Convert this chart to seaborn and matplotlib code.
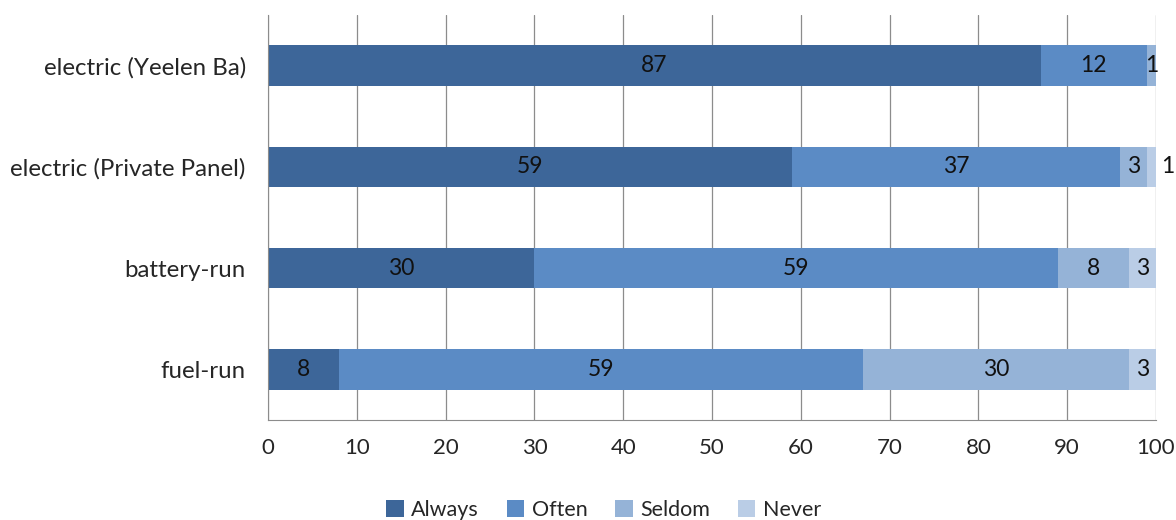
import numpy as np
import pandas as pd
import seaborn as sns
import matplotlib.pyplot as plt
from matplotlib.ticker import FixedLocator

# data
sources = ['electric (Yeelen Ba)', 'electric (Private Panel)', 'battery-run', 'fuel-run']
always = [87, 59, 30, 8]
often = [12, 37, 59, 59]
seldom = [1, 3, 8, 30]
never = [0, 1, 3, 3]

levels = ['Always', 'Often', 'Seldom', 'Never']
colors = ['#3d6699', '#5b8bc5', '#95b3d7', '#bacde6']

sns.set_style('white')
plt.rcParams['font.family'] = ['Lato', 'DejaVu Sans']

df = pd.DataFrame({'source': sources, 'Always': always, 'Often': often,
                   'Seldom': seldom, 'Never': never})
cum = df[levels].cumsum(axis=1)

fig = plt.figure(figsize=(11.76, 5.2), dpi=100)
ax = fig.add_axes([0.2279, 0.1923, 0.7551, 0.7788])

# draw cumulative totals from the longest to the shortest so they stack
for lvl, col in reversed(list(zip(levels, colors))):
    sns.barplot(x=cum[lvl], y=df['source'], color=col, width=0.4,
                saturation=1, orient='h', ax=ax, label=lvl, linewidth=0)

# segment labels
for i, src in enumerate(sources):
    start = 0
    for lvl in levels:
        v = df.loc[i, lvl]
        if v > 0:
            xpos = start + v / 2
            if src == 'electric (Private Panel)' and lvl == 'Never':
                xpos = 101.3
            ax.text(xpos, i, str(v), ha='center', va='center',
                    fontsize=16.5, color='#111111', clip_on=False)
        start += v

ax.set_xlim(0, 100)
ax.set_ylim(3.5, -0.5)
ax.set_xticks(np.arange(0, 101, 10))
ax.set_xlabel('')
ax.set_ylabel('')
ax.grid(axis='x', color='#8c8c8c', linewidth=0.9)
ax.set_axisbelow(True)
for s in ['top', 'right']:
    ax.spines[s].set_visible(False)
for s in ['left', 'bottom']:
    ax.spines[s].set_color('#8c8c8c')
ax.tick_params(axis='x', which='major', direction='out', length=6,
               color='#8c8c8c', labelsize=16, pad=7)
ax.tick_params(axis='y', which='major', length=0, labelsize=17.3, pad=16)
ax.yaxis.set_minor_locator(FixedLocator([-0.5, 0.5, 1.5, 2.5, 3.5]))
ax.tick_params(axis='y', which='minor', direction='out', length=6,
               color='#8c8c8c')

handles, labels = ax.get_legend_handles_labels()
order = [labels.index(l) for l in levels]
ax.legend([handles[k] for k in order], levels, loc='lower center',
          bbox_to_anchor=(0.378, -0.295), ncol=4, frameon=False,
          fontsize=15.5, handlelength=0.8, handleheight=0.8,
          handletextpad=0.35, columnspacing=1.3)

fig.savefig('out.png', dpi=100)
